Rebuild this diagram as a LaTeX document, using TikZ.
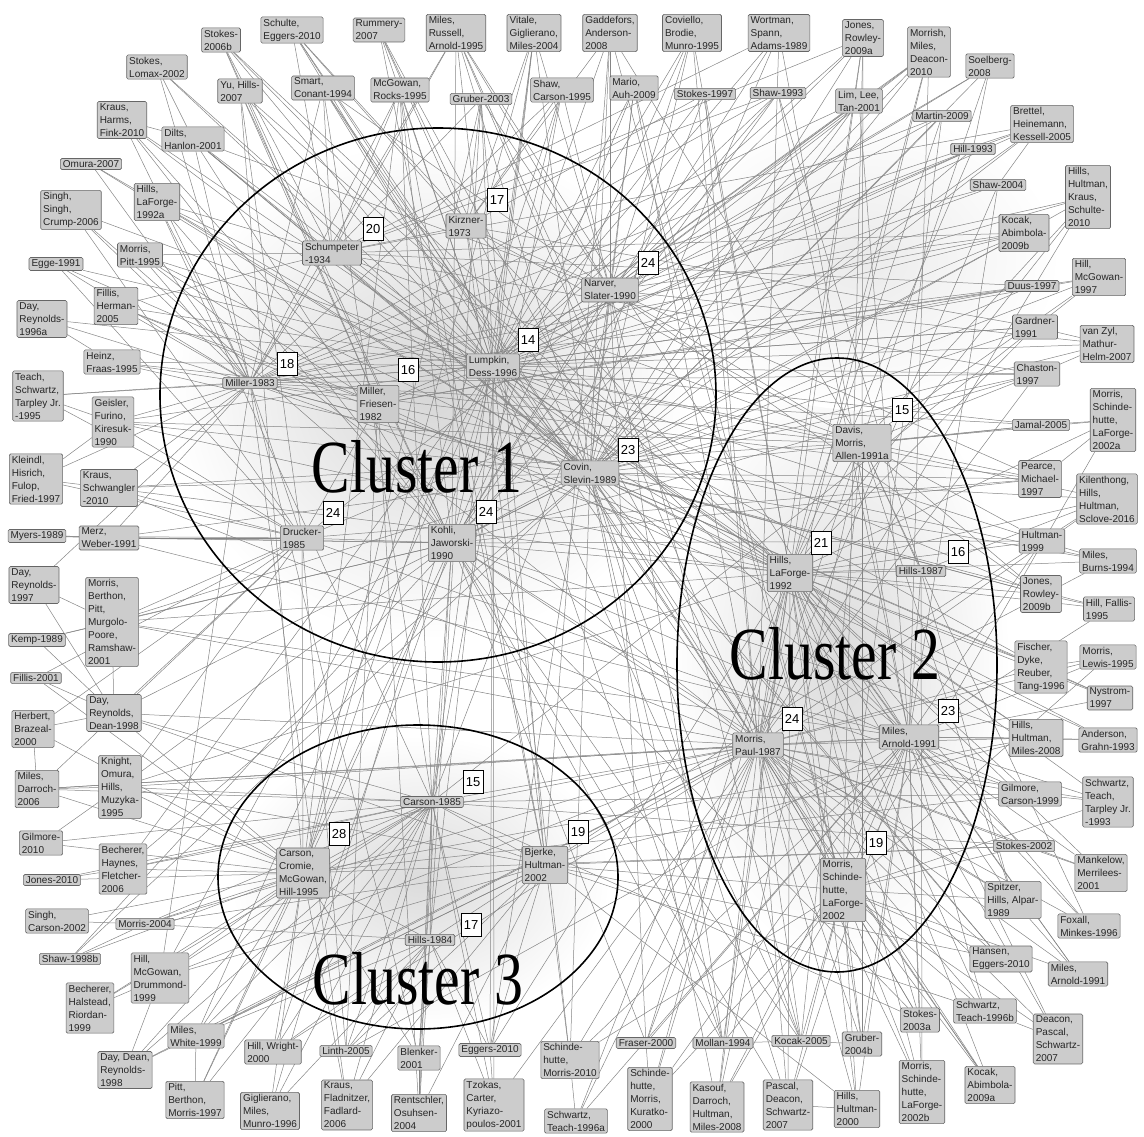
\documentclass[tikz,border=0pt]{standalone}
\usepackage{fontspec}
\setmainfont{Liberation Sans}
\newfontfamily\clusterfont{Liberation Serif}
\pgfdeclarelayer{haze}
\pgfdeclarelayer{links}
\pgfsetlayers{haze,links,main}
\newcommand{\clustertitle}[1]{\scalebox{0.77}[1]{#1}}
\tikzset{
  ref/.style={draw=black!60, fill=black!20, rounded corners=1.5pt, line width=0.6pt,
    align=left, inner xsep=2.5pt, inner ysep=2pt, text=black!85,
    font=\fontsize{10}{13}\selectfont},
  cnt/.style={draw=black, fill=white, line width=0.8pt, minimum width=20pt,
    minimum height=23pt, inner sep=1pt, font=\fontsize{13}{14}\selectfont},
  link/.style={draw=black!48, line width=0.5pt},
  cluster/.style={draw=black, line width=1.6pt},
  clabel/.style={anchor=base, inner sep=0pt, text height=0.68em, text depth=0pt,
    font=\clusterfont\fontsize{75}{78}\selectfont}
}
\begin{document}
\begin{tikzpicture}[x=1pt,y=-1pt]
\useasboundingbox (0,0) rectangle (1144,1137);

% cluster outlines
\draw[cluster] (438,395) ellipse [x radius=278pt, y radius=267pt];
\draw[cluster] (837,665) ellipse [x radius=160pt, y radius=307pt];
\draw[cluster] (418,877) ellipse [x radius=200pt, y radius=152pt];

% cluster titles
\node[clabel] (t1) at (417,492) {\clustertitle{Cluster 1}};
\node[clabel] (t2) at (835,679) {\clustertitle{Cluster 2}};
\node[clabel] (t3) at (418,1004) {\clustertitle{Cluster 3}};

% ---- core references ----
\node[ref] (sch)  at (332,253) {Schumpeter\\-1934};
\node[ref] (kir)  at (466,226) {Kirzner-\\1973};
\node[ref] (nar)  at (610,290) {Narver,\\Slater-1990};
\node[ref] (mil)  at (250,383) {Miller-1983};
\node[ref] (mf)   at (378,404) {Miller,\\Friesen-\\1982};
\node[ref] (ld)   at (493,366) {Lumpkin,\\Dess-1996};
\node[ref] (cs)   at (590,473) {Covin,\\Slevin-1989};
\node[ref] (dru)  at (302,538) {Drucker-\\1985};
\node[ref] (kj)   at (452,543) {Kohli,\\Jaworski-\\1990};
\node[ref] (dma)  at (862,443) {Davis,\\Morris,\\Allen-1991a};
\node[ref] (hl)   at (790,573) {Hills,\\LaForge-\\1992};
\node[ref] (h87)  at (921,571) {Hills-1987};
\node[ref] (mp)   at (758,745) {Morris,\\Paul-1987};
\node[ref] (ma)   at (909,737) {Miles,\\Arnold-1991};
\node[ref] (msl)  at (843,890) {Morris,\\Schinde-\\hutte,\\LaForge-\\2002};
\node[ref] (c85)  at (432,802) {Carson-1985};
\node[ref] (ccmh) at (303,873) {Carson,\\Cromie,\\McGowan,\\Hill-1995};
\node[ref] (bh)   at (545,865) {Bjerke,\\Hultman-\\2002};
\node[ref] (h84)  at (430,940) {Hills-1984};

% citation counts
\node[cnt] (n-sch)  at (373,229) {20};
\node[cnt] (n-kir)  at (497,200) {17};
\node[cnt] (n-nar)  at (648,263) {24};
\node[cnt] (n-mil)  at (287,364) {18};
\node[cnt] (n-mf)   at (408,370) {16};
\node[cnt] (n-ld)   at (528,340) {14};
\node[cnt] (n-cs)   at (628,450) {23};
\node[cnt] (n-dru)  at (333,513) {24};
\node[cnt] (n-kj)   at (486,512) {24};
\node[cnt] (n-dma)  at (902,410) {15};
\node[cnt] (n-hl)   at (821,543) {21};
\node[cnt] (n-h87)  at (958,552) {16};
\node[cnt] (n-mp)   at (792,719) {24};
\node[cnt] (n-ma)   at (948,711) {23};
\node[cnt] (n-msl)  at (876,843) {19};
\node[cnt] (n-c85)  at (473,782) {15};
\node[cnt] (n-ccmh) at (339,834) {28};
\node[cnt] (n-bh)   at (578,832) {19};
\node[cnt] (n-h84)  at (471,925) {17};

% ---- top left ----
\node[ref] (st06b) at (221,40)  {Stokes-\\2006b};
\node[ref] (seg10) at (292,30)  {Schulte,\\Eggers-2010};
\node[ref] (rum07) at (379,30)  {Rummery-\\2007};
\node[ref] (slo02) at (157,67)  {Stokes,\\Lomax-2002};
\node[ref] (yh07)  at (240,91)  {Yu, Hills-\\2007};
\node[ref] (sc94)  at (323,88)  {Smart,\\Conant-1994};
\node[ref] (mr95)  at (400,90)  {McGowan,\\Rocks-1995};
\node[ref] (khf10) at (122,120) {Kraus,\\Harms,\\Fink-2010};
\node[ref] (dh01)  at (193,139) {Dilts,\\Hanlon-2001};
\node[ref] (om07)  at (91,164)  {Omura-2007};
\node[ref] (ssc06) at (71,210)  {Singh,\\Singh,\\Crump-2006};
\node[ref] (hl92a) at (157,202) {Hills,\\LaForge-\\1992a};
\node[ref] (mp95)  at (140,255) {Morris,\\Pitt-1995};
\node[ref] (eg91)  at (56,264)  {Egge-1991};

% ---- top ----
\node[ref] (mra95) at (456,33)  {Miles,\\Russell,\\Arnold-1995};
\node[ref] (vgm04) at (534,33)  {Vitale,\\Giglierano,\\Miles-2004};
\node[ref] (ga08)  at (610,33)  {Gaddefors,\\Anderson-\\2008};
\node[ref] (cbm95) at (692,33)  {Coviello,\\Brodie,\\Munro-1995};
\node[ref] (wsa89) at (779,33)  {Wortman,\\Spann,\\Adams-1989};
\node[ref] (gr03)  at (481,99)  {Gruber-2003};
\node[ref] (shc95) at (562,90)  {Shaw,\\Carson-1995};
\node[ref] (ma09)  at (634,88)  {Mario,\\Auh-2009};
\node[ref] (st97)  at (705,94)  {Stokes-1997};
\node[ref] (sh93)  at (778,93)  {Shaw-1993};
\node[ref] (jr09a) at (863,38)  {Jones,\\Rowley-\\2009a};
\node[ref] (llt01) at (859,101) {Lim, Lee,\\Tan-2001};
\node[ref] (mmd10) at (929,52)  {Morrish,\\Miles,\\Deacon-\\2010};
\node[ref] (so08)  at (990,66)  {Soelberg-\\2008};
\node[ref] (mt09)  at (942,116) {Martin-2009};
\node[ref] (bhk05) at (1042,124) {Brettel,\\Heinemann,\\Kessell-2005};
\node[ref] (hi93)  at (973,149) {Hill-1993};
\node[ref] (sh04)  at (998,185) {Shaw-2004};
\node[ref] (hhks10) at (1088,197) {Hills,\\Hultman,\\Kraus,\\Schulte-\\2010};
\node[ref] (kab09b) at (1024,233) {Kocak,\\Abimbola-\\2009b};

% ---- right ----
\node[ref] (hmg97) at (1099,277) {Hill,\\McGowan-\\1997};
\node[ref] (du97)  at (1032,286) {Duus-1997};
\node[ref] (ga91)  at (1035,327) {Gardner-\\1991};
\node[ref] (vzm07) at (1107,344) {van Zyl,\\Mathur-\\Helm-2007};
\node[ref] (ch97)  at (1037,374) {Chaston-\\1997};
\node[ref] (ja05)  at (1041,425) {Jamal-2005};
\node[ref] (msl02a) at (1113,420) {Morris,\\Schinde-\\hutte,\\LaForge-\\2002a};
\node[ref] (pm97)  at (1040,479) {Pearce,\\Michael-\\1997};
\node[ref] (khhs16) at (1107,499) {Kilenthong,\\Hills,\\Hultman,\\Sclove-2016};
\node[ref] (hu99)  at (1042,541) {Hultman-\\1999};
\node[ref] (mb94)  at (1108,561) {Miles,\\Burns-1994};
\node[ref] (jr09b) at (1041,594) {Jones,\\Rowley-\\2009b};
\node[ref] (hf95)  at (1109,609) {Hill, Fallis-\\1995};
\node[ref] (fdrt96) at (1041,667) {Fischer,\\Dyke,\\Reuber,\\Tang-1996};
\node[ref] (ml95)  at (1108,657) {Morris,\\Lewis-1995};
\node[ref] (ny97)  at (1110,698) {Nystrom-\\1997};
\node[ref] (hhm08) at (1036,738) {Hills,\\Hultman,\\Miles-2008};
\node[ref] (ag93)  at (1108,740) {Anderson,\\Grahn-1993};
\node[ref] (gc99)  at (1030,794) {Gilmore,\\Carson-1999};
\node[ref] (stt93) at (1108,802) {Schwartz,\\Teach,\\Tarpley Jr.\\-1993};
\node[ref] (st02)  at (1024,846) {Stokes-2002};
\node[ref] (mm01)  at (1101,873) {Mankelow,\\Merrilees-\\2001};
\node[ref] (sha89) at (1013,900) {Spitzer,\\Hills, Alpar-\\1989};
\node[ref] (fm96)  at (1089,926) {Foxall,\\Minkes-1996};
\node[ref] (he10)  at (1001,959) {Hansen,\\Eggers-2010};
\node[ref] (mar91) at (1078,974) {Miles,\\Arnold-1991};
\node[ref] (stb96) at (985,1011) {Schwartz,\\Teach-1996b};
\node[ref] (dps07) at (1058,1039) {Deacon,\\Pascal,\\Schwartz-\\2007};

% ---- bottom right ----
\node[ref] (st03a) at (920,1020) {Stokes-\\2003a};
\node[ref] (ko05)  at (801,1041) {Kocak-2005};
\node[ref] (gr04b) at (862,1044) {Gruber-\\2004b};
\node[ref] (msl02b) at (922,1092) {Morris,\\Schinde-\\hutte,\\LaForge-\\2002b};
\node[ref] (kab09a) at (990,1085) {Kocak,\\Abimbola-\\2009a};
\node[ref] (hh00)  at (857,1109) {Hills,\\Hultman-\\2000};
\node[ref] (pds07) at (788,1105) {Pascal,\\Deacon,\\Schwartz-\\2007};

% ---- bottom ----
\node[ref] (bl01)  at (419,1058) {Blenker-\\2001};
\node[ref] (eg10)  at (490,1050) {Eggers-2010};
\node[ref] (sm10)  at (570,1060) {Schinde-\\hutte,\\Morris-2010};
\node[ref] (fr00)  at (646,1043) {Fraser-2000};
\node[ref] (mo94)  at (723,1043) {Mollan-1994};
\node[ref] (ro04)  at (419,1113) {Rentschler,\\Osuhsen-\\2004};
\node[ref] (tck01) at (494,1105) {Tzokas,\\Carter,\\Kyriazo-\\poulos-2001};
\node[ref] (sta96) at (576,1121) {Schwartz,\\Teach-1996a};
\node[ref] (smk00) at (650,1099) {Schinde-\\hutte,\\Morris,\\Kuratko-\\2000};
\node[ref] (kdhm08) at (717,1107) {Kasouf,\\Darroch,\\Hultman,\\Miles-2008};

% ---- bottom left ----
\node[ref] (gi10)  at (41,843)   {Gilmore-\\2010};
\node[ref] (bhf06) at (123,869)  {Becherer,\\Haynes,\\Fletcher-\\2006};
\node[ref] (jo10)  at (52,880)   {Jones-2010};
\node[ref] (sca02) at (57,921)   {Singh,\\Carson-2002};
\node[ref] (mo04)  at (145,924)  {Morris-2004};
\node[ref] (sh98b) at (70,959)   {Shaw-1998b};
\node[ref] (hmd99) at (160,978)  {Hill,\\McGowan,\\Drummond-\\1999};
\node[ref] (bhr99) at (90,1008)  {Becherer,\\Halstead,\\Riordan-\\1999};
\node[ref] (mw99)  at (196,1036) {Miles,\\White-1999};
\node[ref] (ddr98) at (125,1070) {Day, Dean,\\Reynolds-\\1998};
\node[ref] (pbm97) at (195,1100) {Pitt,\\Berthon,\\Morris-1997};
\node[ref] (hw00)  at (273,1052) {Hill, Wright-\\2000};
\node[ref] (gmm96) at (270,1111) {Giglierano,\\Miles,\\Munro-1996};
\node[ref] (li05)  at (346,1051) {Linth-2005};
\node[ref] (kff06) at (347,1105) {Kraus,\\Fladnitzer,\\Fadlard-\\2006};

% ---- left ----
\node[ref] (fh05)  at (116,306) {Fillis,\\Herman-\\2005};
\node[ref] (dr96a) at (42,319)  {Day,\\Reynolds-\\1996a};
\node[ref] (hf95b) at (112,362) {Heinz,\\Fraas-1995};
\node[ref] (tst95) at (38,396)  {Teach,\\Schwartz,\\Tarpley Jr.\\-1995};
\node[ref] (gfk90) at (113,422) {Geisler,\\Furino,\\Kiresuk-\\1990};
\node[ref] (khff97) at (36,479) {Kleindl,\\Hisrich,\\Fulop,\\Fried-1997};
\node[ref] (ksc10) at (109,488) {Kraus,\\Schwangler\\-2010};
\node[ref] (my89)  at (37,536)  {Myers-1989};
\node[ref] (mw91)  at (109,538) {Merz,\\Weber-1991};
\node[ref] (dr97)  at (34,585)  {Day,\\Reynolds-\\1997};
\node[ref] (mbp01) at (112,622) {Morris,\\Berthon,\\Pitt,\\Murgolo-\\Poore,\\Ramshaw-\\2001};
\node[ref] (ke89)  at (37,640)  {Kemp-1989};
\node[ref] (fi01)  at (36,678)  {Fillis-2001};
\node[ref] (drd98) at (114,713) {Day,\\Reynolds,\\Dean-1998};
\node[ref] (hb00)  at (33,729)  {Herbert,\\Brazeal-\\2000};
\node[ref] (md06)  at (37,789)  {Miles,\\Darroch-\\2006};
\node[ref] (kohm95) at (120,787) {Knight,\\Omura,\\Hills,\\Muzyka-\\1995};

% soft shading behind the dense parts of the network
\begin{pgfonlayer}{haze}
  \shade[inner color=black!16, outer color=white] (430,390) ellipse [x radius=260pt, y radius=250pt];
  \shade[inner color=black!14, outer color=white] (840,660) ellipse [x radius=170pt, y radius=300pt];
  \shade[inner color=black!14, outer color=white] (420,880) ellipse [x radius=190pt, y radius=145pt];
  \shade[inner color=black!8, outer color=white] (860,260) ellipse [x radius=200pt, y radius=150pt];
\end{pgfonlayer}

% citation links
\begin{pgfonlayer}{links}
\foreach \s/\ts in {
  st06b/{sch,mf,ld,kj,hl,ma}, seg10/{sch,ld,cs,kir,hl,mp}, rum07/{ld,kir,cs,bh,msl},
  slo02/{dh01,mil,ld,cs}, yh07/{mf,dru,ld,kj,ccmh,hl}, sc94/{sch,ld,cs,nar,mil,mp,c85},
  mr95/{sch,ccmh,ld,kj,mil,c85,bh}, khf10/{dh01,mil,mf,kj,cs,hl},
  dh01/{sch,mil,ld,cs,kj,nar,ma}, om07/{hl92a,mil,cs}, ssc06/{mil,dru,ld,kj},
  hl92a/{ld,cs,kj,mil,sch,hl,c85}, mp95/{sch,mil,ld,mf,cs,mp}, eg91/{mil,dru,mf,ld},
  mra95/{sch,ld,mil,kj,cs,nar,mp,ma,msl}, vgm04/{ld,nar,cs,kir,c85,ccmh,h84},
  ga08/{ld,nar,cs,kir,dma,bh,msl}, cbm95/{cs,nar,mp,hl,ccmh,ld},
  wsa89/{ld,cs,sch,mp,ma,kj}, gr03/{ld,sch,kir,nar,h84,ccmh,bh},
  shc95/{c85,nar,ld,kir,ccmh,mil}, ma09/{nar,kj,ld,cs,mp,msl}, st97/{mp,hl,kir,c85,ld},
  sh93/{sch,nar,kj,h87,ma,mil,ld}, jr09a/{ld,cs,nar,mp,hl,dma,sch,msl},
  llt01/{ld,nar,cs,kj,mil,ma}, mmd10/{ld,cs,nar,hl,mp,ma,kj,dru},
  so08/{hi93,ld,nar,cs,mp}, mt09/{ld,cs,msl,mil,hl}, bhk05/{hi93,sch,ld,cs,kj,mil},
  hi93/{ld,hl,cs,nar,mf}, sh04/{bhk05,nar,mp,ld,ma}, hhks10/{kab09b,dma,hl,ld,mp,mil},
  kab09b/{ld,nar,cs,dru,mil,kj,sch},
  hmg97/{dma,cs,c85,mf,ld}, du97/{ld,sch,cs,mil,mf}, ga91/{vzm07,ld,cs,hl,mil,kir},
  vzm07/{ch97,nar,ld,cs}, ch97/{dma,ld,cs,mp,kj,mil,sch}, ja05/{msl02a,dma,ld,mil,cs},
  msl02a/{pm97,msl,hl,dma}, pm97/{ld,cs,mil,kj,nar,dru}, khhs16/{hl,h87,mp,hu99,cs,ld},
  hu99/{dma,hl,ma,bh,ld,kj}, mb94/{hu99,hl,mf,cs,mp}, jr09b/{ld,cs,dma,nar,mil,kj},
  hf95/{jr09b,ma,hl,cs}, fdrt96/{ml95,ny97,ld,cs,hl,mp}, ml95/{ma,msl,mp},
  ny97/{ma,hl,cs}, hhm08/{ld,ma,mp,hl,bh,ccmh,kj}, ag93/{hhm08,mf,ma,cs},
  gc99/{stt93,c85,ccmh,hl,mp,kj,dru}, stt93/{ma,msl,mp,hl}, st02/{mm01,c85,msl,ma,mp,ccmh,bh},
  mm01/{ma,hl,mp}, sha89/{hl,dma,msl,mp,h87,kj}, fm96/{ma,dma,hl,mp}, he10/{bh,ld,cs,mp,msl},
  mar91/{hl,sha89,ma,msl,mp}, stb96/{dps07,ma,mp,msl,hl,bh}, dps07/{ma,hl,msl,mp},
  st03a/{msl,mp,ma,c85,hl,kj}, ko05/{gr04b,msl,mp,cs,kj,dma,nar,ld}, gr04b/{msl,hl,ma,mp,dma},
  msl02b/{msl,mp,h87,ma,hl}, kab09a/{cs,ld,msl,mp,hl}, hh00/{pds07,ma,hl,bh,msl,mp},
  pds07/{msl,ma,mp,hl,cs,kj},
  bl01/{c85,h84,ccmh,ro04,mil,kj}, eg10/{h84,c85,ld,bh,nar,hl}, sm10/{mp,msl,ld,cs,kir,ma},
  fr00/{mp,hl,ma,kj,nar}, mo94/{ld,cs,kj,ko05,msl,nar,hl}, ro04/{h84,c85,mf,bh},
  tck01/{eg10,c85,h84,mp,ld}, sta96/{sm10,ma,mp,hl}, smk00/{hl,ma,fr00,msl,mp},
  kdhm08/{mp,hl,msl,dma,ma,cs},
  gi10/{kohm95,ccmh,c85}, bhf06/{ccmh,ld,cs,mp,c85}, jo10/{bhf06,ccmh,c85}, sca02/{mo04,ccmh},
  mo04/{ccmh,c85,bh,h84,mp}, sh98b/{mo04,kj,cs,ccmh}, hmd99/{ccmh,c85,mil,ld,mp,bh},
  bhr99/{hmd99,ccmh,c85}, mw99/{ccmh,c85,ld,mp,h84,bh}, ddr98/{ccmh,c85,hmd99,mp,bh},
  pbm97/{mw99,ccmh,c85,kj}, hw00/{ccmh,c85,h84,kj,mp}, gmm96/{c85,h84,ccmh,ld},
  li05/{h84,c85,bh,ma,mf,dru}, kff06/{c85,h84,bh,mil,ccmh},
  fh05/{mil,mf,sch,ld,hl}, dr96a/{hf95b,mil,ld}, hf95b/{mil,ld,cs,dma},
  tst95/{gfk90,dru,mil,ld}, gfk90/{mil,dru,ld,cs,hl,dma}, khff97/{ksc10,gfk90,mil,dru},
  ksc10/{mil,dru,cs,dma,hl,mp}, my89/{mw91,dru,kj}, mw91/{dru,kj,mil,cs,ma},
  dr97/{mbp01,mil,drd98}, mbp01/{dru,kj,cs,drd98,hl,mp,ma}, ke89/{mbp01,drd98,kj},
  fi01/{drd98,dru,ccmh}, drd98/{ccmh,c85,dru,cs,mp,bh}, hb00/{drd98,md06,dru,ccmh},
  md06/{kohm95,ccmh,c85,dru,mp,ma}, kohm95/{ccmh,mp,dru,kj,c85,bh,hl},
  sch/{mil,kir,ld,cs,dma}, kir/{ld,nar,dma}, nar/{cs,kj,dma},
  ld/{cs,mf,kj,hl}, mil/{mf,cs,dru,hl}, mf/{dru,kj}, cs/{kj,hl,mp},
  dru/{kj,ccmh}, dma/{hl,h87}, hl/{h87,mp,ma}, mp/{ma,msl,bh,c85},
  ma/{msl,h87}, msl/{bh}, c85/{ccmh,bh,h84,kj}, ccmh/{h84}, bh/{h84},
  kj/{mp}} {
  \foreach \t in \ts { \draw[link] (\s) -- (\t); }
}
\end{pgfonlayer}
\end{tikzpicture}
\end{document}
